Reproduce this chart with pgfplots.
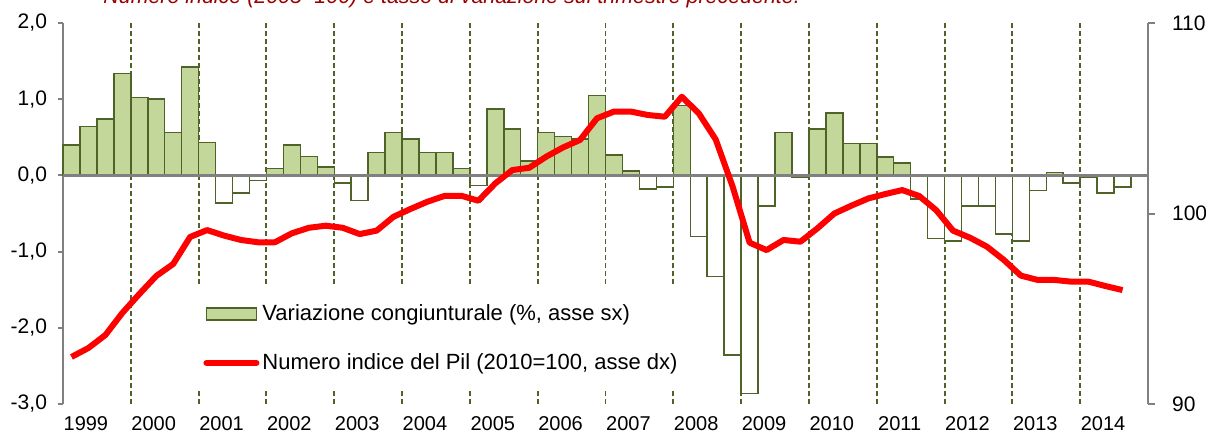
\documentclass[border=0pt]{standalone}
\usepackage{fontspec}
\setmainfont{Liberation Sans}
\usepackage{graphicx}
\usepackage{pgfplots}
\pgfplotsset{compat=1.18}
\definecolor{barfill}{RGB}{196,215,155}
\definecolor{baredge}{RGB}{79,98,40}
\definecolor{axgray}{RGB}{128,128,128}
\definecolor{titlered}{RGB}{153,0,0}
\begin{document}
\begin{tikzpicture}
\node[anchor=base west, font=\fontsize{10.7}{13}\selectfont\itshape, text=titlered, inner sep=0pt] at (51.5pt,215.5pt) {Numero indice (2005=100) e tasso di variazione sul trimestre precedente.};
\begin{axis}[
  at={(31.5pt,15.5pt)}, anchor=south west,
  scale only axis, width=542.5pt, height=190.5pt,
  xmin=-0.5, xmax=63.5, ymin=-3, ymax=2,
  axis y line*=left, axis x line*=bottom,
  x axis line style={draw=none},
  y axis line style={draw=axgray, line width=1pt},
  ytick={-3,-2,-1,0,1,2},
  yticklabels={{-3,0},{-2,0},{-1,0},{0,0},{1,0},{2,0}},
  ytick style={draw=axgray, line width=1pt},
  tick align=outside, major tick length=2.5pt,
  yticklabel style={font=\fontsize{10.5}{12}\selectfont, xshift=-2pt},
  xtick={0.85,4.85,8.85,12.85,16.85,20.85,24.85,28.85,32.85,36.85,40.85,44.85,48.85,52.85,56.85,60.85},
  xticklabels={1999,2000,2001,2002,2003,2004,2005,2006,2007,2008,2009,2010,2011,2012,2013,2014},
  xtick style={draw=none},
  xticklabel style={font=\fontsize{10}{12}\selectfont, yshift=-0.3pt},
  clip=false,
  legend style={at={(axis description cs:0.1217,0.307)}, anchor=north west,
    draw=none, fill=white, font=\fontsize{11}{13}\selectfont,
    inner xsep=4pt, inner ysep=7pt, row sep=12pt,
    nodes={inner sep=1.5pt}},
  legend cell align=left,
]
\pgfplotsinvokeforeach{3.5,7.5,11.5,15.5,19.5,23.5,27.5,31.5,35.5,39.5,43.5,47.5,51.5,55.5,59.5}{
  \draw[baredge, line width=0.95pt, dash pattern=on 2.4pt off 1.6pt] (axis cs:#1,-3) -- (axis cs:#1,2);
}
\addplot[ybar, bar width=1, bar shift=0pt, fill=barfill, draw=baredge, line width=0.75pt,
  legend image code/.code={\draw[fill=barfill, draw=baredge, line width=0.9pt] (0pt,-3pt) rectangle (25pt,3pt);}]
coordinates {
(0,0.40) (1,0.64) (2,0.74) (3,1.34) (4,1.02) (5,1.00) (6,0.56) (7,1.42) (8,0.43)
(12,0.09) (13,0.40) (14,0.25) (15,0.11) (18,0.30) (19,0.56) (20,0.48) (21,0.30) (22,0.30) (23,0.09)
(25,0.87) (26,0.61) (27,0.19) (28,0.56) (29,0.51) (30,0.48) (31,1.05) (32,0.27) (33,0.06)
(36,0.92) (42,0.56) (44,0.61) (45,0.82) (46,0.42) (47,0.42) (48,0.24) (49,0.16) (58,0.04)
};
\addlegendentry{Variazione congiunturale (\%, asse sx)}
\addplot[ybar, bar width=1, bar shift=0pt, fill=white, draw=baredge, line width=0.75pt, forget plot]
coordinates {
(9,-0.36) (10,-0.23) (11,-0.07) (16,-0.10) (17,-0.33) (24,-0.13) (34,-0.18) (35,-0.15)
(37,-0.80) (38,-1.33) (39,-2.36) (40,-2.86) (41,-0.40) (43,-0.03) (50,-0.31) (51,-0.83) (52,-0.86)
(53,-0.40) (54,-0.40) (55,-0.77) (56,-0.86) (57,-0.20) (59,-0.10) (60,-0.02) (61,-0.23) (62,-0.15)
};
\addlegendimage{legend image code/.code={\draw[red, line width=3pt, line cap=round] (0pt,0pt) -- (25pt,0pt);}}
\addlegendentry{Numero indice del Pil (2010=100, asse dx)}
\draw[axgray, line width=1.4pt] (axis cs:-0.5,0) -- (axis cs:63.5,0);
\end{axis}
\begin{axis}[
  at={(31.5pt,15.5pt)}, anchor=south west,
  scale only axis, width=542.5pt, height=190.5pt,
  xmin=-0.5, xmax=63.5, ymin=90, ymax=110,
  axis y line*=right, axis x line=none,
  y axis line style={draw=axgray, line width=1pt},
  ytick={90,100,110},
  ytick style={draw=axgray, line width=1pt},
  tick align=outside, major tick length=3.5pt,
  yticklabel style={font=\fontsize{10.5}{12}\selectfont, xshift=5pt},
  /pgf/number format/assume math mode=true,
]
\addplot[red, line width=3pt, line join=round, mark=none] coordinates {
(0,92.47) (1,92.94) (2,93.62) (3,94.78) (4,95.77) (5,96.72) (6,97.35) (7,98.77)
(8,99.13) (9,98.84) (10,98.61) (11,98.49) (12,98.49) (13,98.96) (14,99.25) (15,99.36)
(16,99.25) (17,98.92) (18,99.10) (19,99.83) (20,100.24) (21,100.62) (22,100.92) (23,100.93)
(24,100.67) (25,101.58) (26,102.28) (27,102.40) (28,102.98) (29,103.47) (30,103.86) (31,105.00)
(32,105.35) (33,105.35) (34,105.17) (35,105.08) (36,106.13) (37,105.26) (38,103.89) (39,101.41)
(40,98.47) (41,98.08) (42,98.61) (43,98.52) (44,99.22) (45,100.00) (46,100.41) (47,100.79)
(48,101.02) (49,101.23) (50,100.92) (51,100.18) (52,99.10) (53,98.73) (54,98.26) (55,97.56)
(56,96.74) (57,96.51) (58,96.51) (59,96.42) (60,96.42) (61,96.19) (62,95.98)
};
\end{axis}
\pgfresetboundingbox
\path[use as bounding box] (0pt,0pt) rectangle (603pt,217.5pt);
\end{tikzpicture}
\end{document}
